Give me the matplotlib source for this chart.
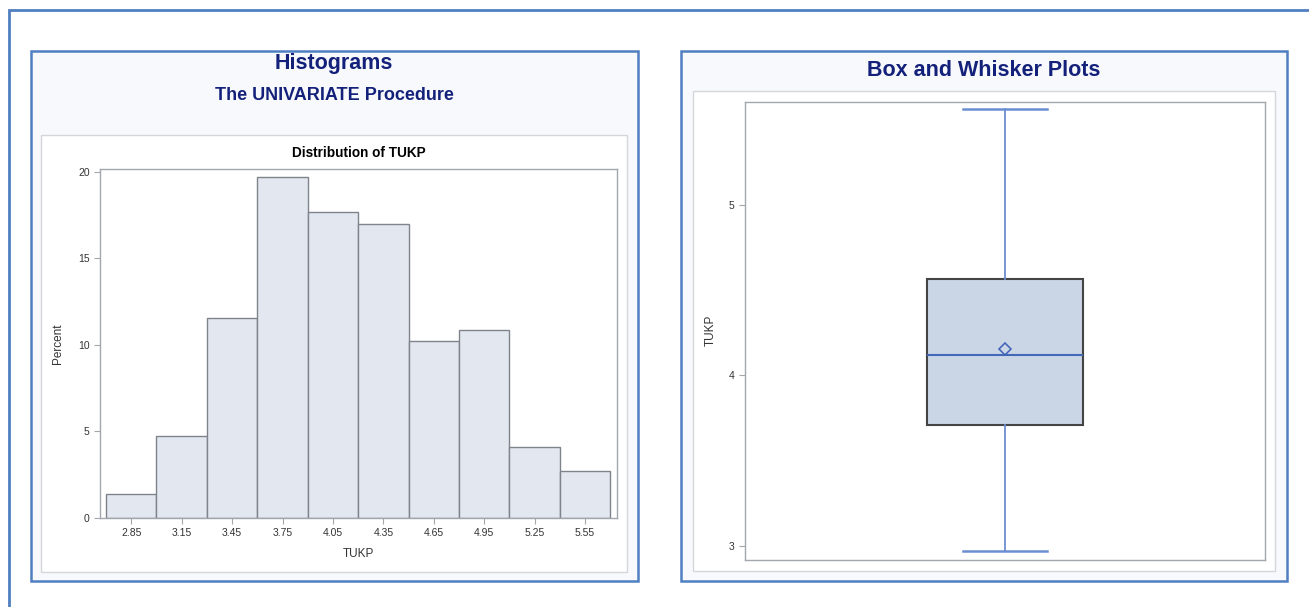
import matplotlib
matplotlib.use("Agg")
import matplotlib.pyplot as plt
from matplotlib.patches import Rectangle

plt.rcParams['font.family'] = ['Liberation Sans', 'DejaVu Sans']

# ---- data ----
bin_midpoints = [2.85, 3.15, 3.45, 3.75, 4.05, 4.35, 4.65, 4.95, 5.25, 5.55]
bin_counts = [2, 7, 17, 29, 26, 25, 15, 16, 6, 4]
bin_width = 0.30
percent_ticks = [0, 5, 10, 15, 20]

box_stats = dict(whislo=2.97, q1=3.71, med=4.12, mean=4.157, q3=4.567, whishi=5.56)
box_ticks = [3, 4, 5]

variable = "TUKP"

W, H = 1309, 607
fig = plt.figure(figsize=(W / 100, H / 100), dpi=100)
fig.patch.set_facecolor("white")

NAVY = "#14217a"
BLUE_BORDER = "#4f7fc0"
PANEL_FILL = "#f7f9fd"
FRAME_GRAY = "#d4d6da"
SPINE_GRAY = "#a3a7ad"
TEXT_GRAY = "#333333"

# background canvas in pixel coordinates
bg = fig.add_axes([0, 0, 1, 1])
bg.set_xlim(0, W)
bg.set_ylim(H, 0)
bg.axis("off")

def rect(x0, y0, x1, y1, fc, ec, lw):
    bg.add_patch(Rectangle((x0, y0), x1 - x0, y1 - y0, facecolor=fc,
                           edgecolor=ec, linewidth=lw))

# page border
rect(9, 10, W + 20, H + 20, "white", BLUE_BORDER, 2.0)
# panels
rect(31, 51, 638, 581, PANEL_FILL, BLUE_BORDER, 1.8)
rect(681, 51, 1287, 581, PANEL_FILL, BLUE_BORDER, 1.8)
# graph frames
rect(40.5, 135, 627, 572, "white", FRAME_GRAY, 1.0)
rect(692.5, 90.5, 1275, 571, "white", FRAME_GRAY, 1.0)

bg.text(334, 64, "Histograms", ha="center", va="center", fontsize=15.5,
        fontweight="bold", color=NAVY)
bg.text(334, 95.5, "The UNIVARIATE Procedure", ha="center", va="center",
        fontsize=13, fontweight="bold", color=NAVY)
bg.text(984, 70, "Box and Whisker Plots", ha="center", va="center",
        fontsize=15.5, fontweight="bold", color=NAVY)

def px_axes(x0, y0, x1, y1):
    return fig.add_axes([x0 / W, 1 - y1 / H, (x1 - x0) / W, (y1 - y0) / H])

def style_axes(ax):
    for s in ax.spines.values():
        s.set_color(SPINE_GRAY)
        s.set_linewidth(1.0)
    ax.tick_params(colors=SPINE_GRAY, labelcolor=TEXT_GRAY, labelsize=7.5,
                   length=4, width=0.8, direction="out")

# ---- histogram ----
total = sum(bin_counts)
percents = [c / total * 100 for c in bin_counts]

ax1 = px_axes(100, 168.5, 617, 518)
ax1.bar(bin_midpoints, percents, width=bin_width, color="#e3e7f0",
        edgecolor="#7e838c", linewidth=1.0, zorder=2)
ax1.set_xlim(2.664, 5.740)
ax1.set_ylim(0, 20.2)
ax1.set_xticks(bin_midpoints)
ax1.set_xticklabels([f"{m:.2f}" for m in bin_midpoints])
ax1.set_yticks(percent_ticks)
ax1.set_xlabel(variable, fontsize=8.5, color=TEXT_GRAY, labelpad=7)
ax1.set_ylabel("Percent", fontsize=8.5, color=TEXT_GRAY, labelpad=10)
ax1.set_title("Distribution of TUKP", fontsize=9.8, fontweight="bold",
              color="black", pad=8)
style_axes(ax1)

# ---- box plot ----
ax2 = px_axes(745, 101.5, 1265, 560)
stats = [dict(box_stats, label="")]
ax2.bxp(stats, positions=[1], widths=[0.30], capwidths=[0.16],
        showmeans=True, meanline=False, patch_artist=True, showfliers=False,
        boxprops=dict(facecolor="#cad5e5", edgecolor="#444444", linewidth=1.5),
        whiskerprops=dict(color="#6b8ed1", linewidth=1.3),
        capprops=dict(color="#6b8ed1", linewidth=1.8),
        medianprops=dict(color="#4468b8", linewidth=1.5),
        meanprops=dict(marker="D", markerfacecolor="none",
                       markeredgecolor="#3b62b5", markersize=6,
                       markeredgewidth=1.1))
ax2.set_xlim(0.5, 1.5)
ax2.set_ylim(2.918, 5.606)
ax2.set_xticks([])
ax2.set_yticks(box_ticks)
ax2.set_ylabel(variable, fontsize=8.5, color=TEXT_GRAY, labelpad=9)
style_axes(ax2)

fig.savefig("out.png", dpi=100, facecolor="white")
